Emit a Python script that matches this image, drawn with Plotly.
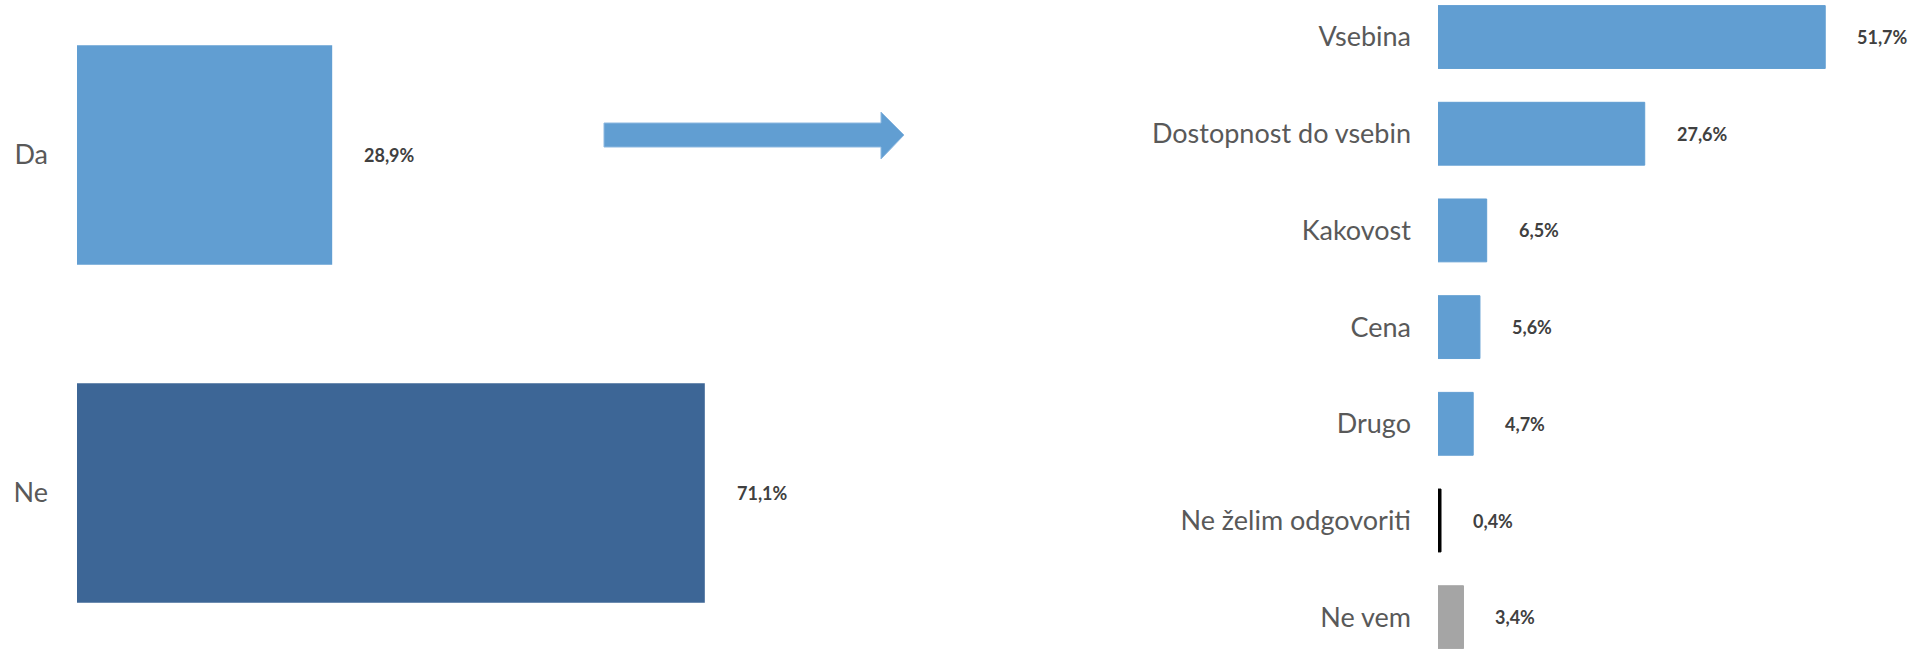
import plotly.graph_objects as go
from plotly.subplots import make_subplots

# left chart: yes / no
answers = ["Da", "Ne"]
answer_values = [28.9, 71.1]
answer_labels = ["28,9%", "71,1%"]

# right chart: reasons
reasons = [
    "Vsebina",
    "Dostopnost do vsebin",
    "Kakovost",
    "Cena",
    "Drugo",
    "Ne želim odgovoriti",
    "Ne vem"
]
reason_values = [51.7, 27.6, 6.5, 5.6, 4.7, 0.4, 3.4]
reason_labels = ["51,7%", "27,6%", "6,5%", "5,6%", "4,7%", "0,4%", "3,4%"]

LIGHT_BLUE = "#619ED2"
DARK_BLUE = "#3D6696"
GREY = "#A5A5A5"
BLACK = "#000000"

answer_colors = [LIGHT_BLUE, DARK_BLUE]
reason_colors = [LIGHT_BLUE] * 5 + [BLACK, GREY]

W, H = 1921, 649

fig = make_subplots(rows=1, cols=2)

fig.add_trace(
    go.Bar(
        x=answer_values,
        y=answers,
        orientation="h",
        width=0.65,
        marker=dict(color=answer_colors, line=dict(width=0)),
        hoverinfo="skip",
        showlegend=False
    ),
    row=1, col=1
)

fig.add_trace(
    go.Bar(
        x=reason_values,
        y=reasons,
        orientation="h",
        width=0.65,
        marker=dict(color=reason_colors, line=dict(color=reason_colors, width=1)),
        hoverinfo="skip",
        showlegend=False
    ),
    row=1, col=2
)

value_font = dict(family="Lato", size=18, color="#404040", weight="bold")

# value labels to the right of each bar
for val, cat, txt in zip(answer_values, answers, answer_labels):
    fig.add_annotation(
        x=val, y=cat, xref="x", yref="y",
        text=txt, showarrow=False,
        xanchor="left", xshift=30,
        font=value_font
    )

for val, cat, txt in zip(reason_values, reasons, reason_labels):
    fig.add_annotation(
        x=val, y=cat, xref="x2", yref="y2",
        text=txt, showarrow=False,
        xanchor="left", xshift=30,
        font=value_font
    )

# arrow between the two charts
ax = lambda px: px / W
ay = lambda py: 1 - py / H
arrow_path = (
    f"M {ax(604)},{ay(123)} L {ax(881)},{ay(123)} L {ax(881)},{ay(112)} "
    f"L {ax(904)},{ay(135)} L {ax(881)},{ay(159)} L {ax(881)},{ay(147)} "
    f"L {ax(604)},{ay(147)} Z"
)
fig.add_shape(
    type="path", path=arrow_path, xref="paper", yref="paper",
    fillcolor=LIGHT_BLUE, line=dict(color="#8DB8E0", width=1)
)

axis_font = dict(family="Lato", size=27, color="#595959")

fig.update_xaxes(
    showgrid=False, zeroline=False, showline=False,
    showticklabels=False, ticks=""
)
fig.update_yaxes(
    showgrid=False, zeroline=False, showline=False,
    ticks="", tickfont=axis_font, automargin=False
)

fig.update_layout(
    xaxis=dict(domain=[77 / W, 0.46], range=[0, (0.46 * W - 77) / 8.83]),
    xaxis2=dict(domain=[1438 / W, 1.0], range=[0, (W - 1438) / 7.49]),
    yaxis=dict(range=[1.4615, -0.4586], ticklabelstandoff=28),
    yaxis2=dict(range=[6.329, -0.383], ticklabelstandoff=26),
    width=W,
    height=H,
    margin=dict(l=0, r=0, t=0, b=0),
    paper_bgcolor="white",
    plot_bgcolor="white",
    bargap=0.35
)

fig.write_html(
    "out.html",
    config={"displayModeBar": False},
    post_script="document.body.style.margin='0';"
)
